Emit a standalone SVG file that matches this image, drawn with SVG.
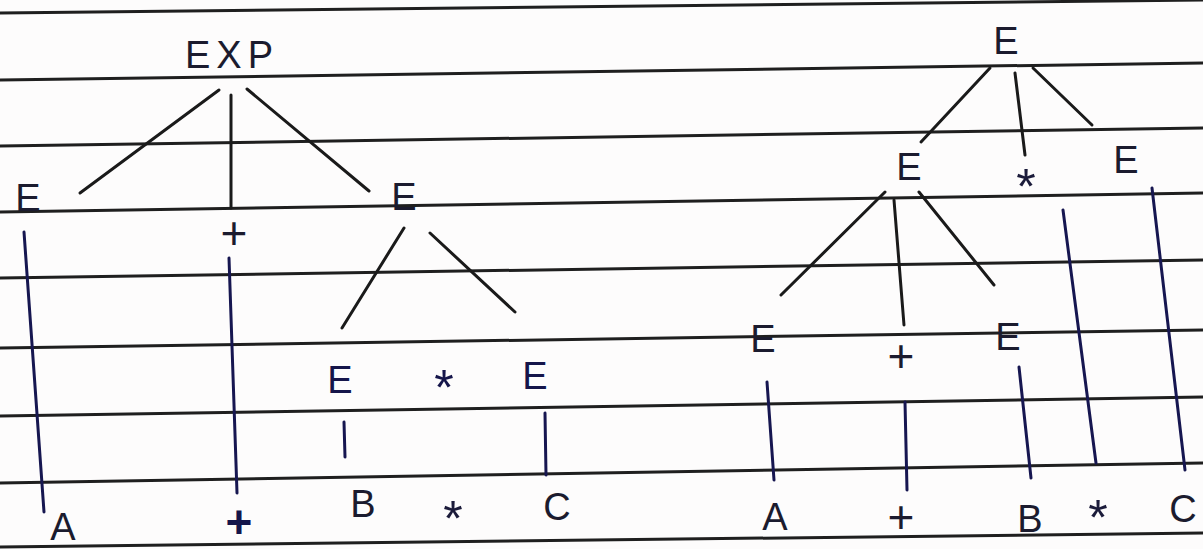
<svg xmlns="http://www.w3.org/2000/svg" width="1203" height="549" viewBox="0 0 1203 549">
<style>
.rule{stroke:#1f1f1f;stroke-width:3;fill:none}
.edge{stroke:#1a1a1a;stroke-width:3;fill:none;stroke-linecap:round}
.navy{stroke:#161650;stroke-width:3;fill:none;stroke-linecap:round}
.t{font-family:"Liberation Sans",Arial,sans-serif;font-size:38px;fill:#1b1b2e;text-anchor:middle}
.op{font-family:"Liberation Sans",Arial,sans-serif;font-size:46px;fill:#1b1b2e;text-anchor:middle}
.ast{font-family:"Liberation Sans",Arial,sans-serif;font-size:50px;fill:#1b1b3a;text-anchor:middle}
.lt{fill:#15154a}
</style>
<rect width="1203" height="549" fill="#fdfcfc"/>
<g id="paper">
<line class="rule" x1="0" y1="13" x2="1203" y2="0"/>
<line class="rule" x1="0" y1="80" x2="1203" y2="63"/>
<line class="rule" x1="0" y1="146" x2="1203" y2="128"/>
<line class="rule" x1="0" y1="212" x2="1203" y2="193"/>
<line class="rule" x1="0" y1="278" x2="1203" y2="260"/>
<line class="rule" x1="0" y1="348" x2="1203" y2="330"/>
<line class="rule" x1="0" y1="416" x2="1203" y2="397"/>
<line class="rule" x1="0" y1="483" x2="1203" y2="463"/>
<line class="rule" x1="0" y1="547" x2="1203" y2="533"/>
</g>
<g id="connectors">
<line class="edge" x1="219" y1="90" x2="80" y2="193"/>
<line class="edge" x1="231" y1="95" x2="231" y2="208"/>
<line class="edge" x1="247" y1="89" x2="369" y2="191"/>
<line class="edge" x1="404" y1="228" x2="342" y2="328"/>
<line class="edge" x1="430" y1="233" x2="515" y2="312"/>
<line class="navy" x1="344" y1="422" x2="345" y2="457"/>
<line class="navy" x1="545" y1="413" x2="546" y2="475"/>
<line class="navy" x1="24" y1="232" x2="44" y2="512"/>
<line class="navy" x1="229" y1="258" x2="237" y2="493"/>
<line class="edge" x1="990" y1="68" x2="921" y2="142"/>
<line class="edge" x1="1015" y1="73" x2="1025" y2="155"/>
<line class="edge" x1="1033" y1="68" x2="1092" y2="125"/>
<line class="edge" x1="885" y1="192" x2="781" y2="295"/>
<line class="edge" x1="894" y1="200" x2="904" y2="325"/>
<line class="edge" x1="919" y1="192" x2="994" y2="285"/>
<line class="navy" x1="1063" y1="210" x2="1096" y2="463"/>
<line class="navy" x1="1152" y1="188" x2="1185" y2="470"/>
<line class="navy" x1="767" y1="382" x2="774" y2="480"/>
<line class="navy" x1="905" y1="402" x2="907" y2="490"/>
<line class="navy" x1="1019" y1="367" x2="1031" y2="478"/>
</g>
<g id="left-tree">
<g id="n-exp"><text class="t" x="232" y="68" letter-spacing="6">EXP</text></g>
<g id="n-e1"><text class="t" x="28" y="211">E</text></g>
<g id="n-plus1"><text class="op" x="234" y="249">+</text></g>
<g id="n-e2"><text class="t" x="404" y="210">E</text></g>
<g id="n-e3"><text class="t lt" x="340" y="393">E</text></g>
<g id="n-star1"><text class="ast lt" x="444" y="405">*</text></g>
<g id="n-e4"><text class="t lt" x="535" y="389">E</text></g>
<g id="n-a1"><text class="t" x="63" y="540">A</text></g>
<g id="n-plus2"><text class="op lt" x="239" y="538" font-weight="bold">+</text></g>
<g id="n-b1"><text class="t" x="363" y="517">B</text></g>
<g id="n-star2"><text class="ast" x="453" y="536">*</text></g>
<g id="n-c1"><text class="t" x="557" y="520">C</text></g>
</g>
<g id="right-tree">
<g id="r-e0"><text class="t" x="1006" y="54">E</text></g>
<g id="r-e1"><text class="t" x="909" y="180">E</text></g>
<g id="r-star"><text class="ast" x="1026" y="204">*</text></g>
<g id="r-e2"><text class="t" x="1126" y="173">E</text></g>
<g id="r-e3"><text class="t" x="763" y="352">E</text></g>
<g id="r-plus1"><text class="op" x="901" y="372">+</text></g>
<g id="r-e4"><text class="t" x="1008" y="350">E</text></g>
<g id="r-a"><text class="t" x="775" y="530">A</text></g>
<g id="r-plus2"><text class="op" x="901" y="533">+</text></g>
<g id="r-b"><text class="t" x="1030" y="532">B</text></g>
<g id="r-star2"><text class="ast" x="1098" y="535">*</text></g>
<g id="r-c"><text class="t" x="1183" y="522">C</text></g>
</g>
</svg>
